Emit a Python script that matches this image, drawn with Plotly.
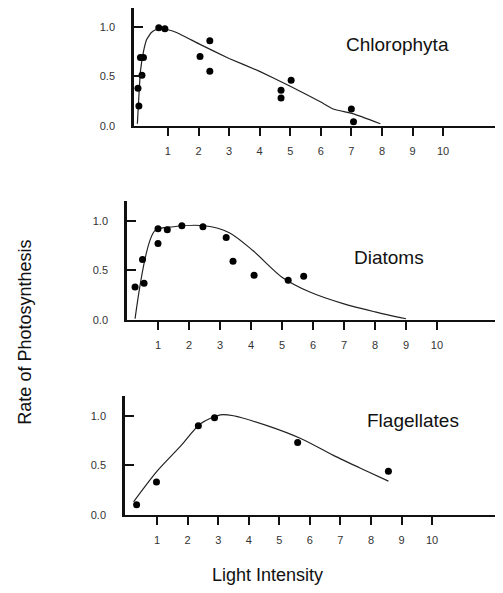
import plotly.graph_objects as go

# page body has an 8px default margin; size the figure to fill the rest
OFF = 8
W, H = 503 - OFF, 593 - OFF

# ---------------- data ----------------
panel_names = ["Chlorophyta", "Diatoms", "Flagellates"]

chl_pts_x = [0.02, 0.05, 0.10, 0.20, 0.15, 0.70, 0.90, 2.05, 2.37, 2.37, 4.70, 4.70, 5.03, 7.00, 7.07]
chl_pts_y = [0.38, 0.20, 0.69, 0.69, 0.51, 0.99, 0.98, 0.70, 0.86, 0.55, 0.36, 0.28, 0.46, 0.17, 0.04]
chl_curve_x = [0.0, 0.05, 0.10, 0.20, 0.30, 0.45, 0.60, 0.80, 1.0, 1.3, 2.0, 3.0, 4.0, 5.0, 6.0, 6.4, 7.07, 7.95]
chl_curve_y = [0.02, 0.30, 0.55, 0.75, 0.87, 0.94, 0.97, 0.98, 0.97, 0.94, 0.83, 0.68, 0.55, 0.40, 0.24, 0.17, 0.12, 0.02]

dia_pts_x = [0.26, 0.50, 0.55, 1.00, 1.00, 1.30, 1.77, 2.45, 3.20, 3.42, 4.10, 5.20, 5.70]
dia_pts_y = [0.33, 0.61, 0.37, 0.92, 0.77, 0.91, 0.95, 0.94, 0.83, 0.59, 0.45, 0.40, 0.44]
dia_curve_x = [0.26, 0.90, 1.5, 2.5, 3.3, 4.06, 5.0, 5.9, 7.0, 8.0, 9.0]
dia_curve_y = [0.01, 0.90, 0.94, 0.95, 0.88, 0.70, 0.43, 0.28, 0.16, 0.08, 0.01]

fla_pts_x = [0.33, 0.98, 2.35, 2.88, 5.60, 8.57]
fla_pts_y = [0.10, 0.33, 0.90, 0.98, 0.73, 0.44]
fla_curve_x = [0.23, 1.0, 1.76, 2.42, 3.07, 3.5, 4.6, 5.7, 6.77, 7.87, 8.57]
fla_curve_y = [0.13, 0.44, 0.69, 0.92, 1.01, 1.00, 0.90, 0.77, 0.60, 0.44, 0.34]

x_tick_vals = [1, 2, 3, 4, 5, 6, 7, 8, 9, 10]
x_tick_text = ["1", "2", "3", "4", "5", "6", "7", "8", "9", "10"]
y_tick_vals = [0.0, 0.5, 1.0]
y_tick_text = ["0.0", "0.5", "1.0"]

y_title = "Rate of Photosynthesis"
x_title = "Light Intensity"

# ---------------- figure ----------------
FONT = "Liberation Sans, Arial, sans-serif"
INK = "#111111"


def fx(p):
    return min(1.0, max(0.0, (p - OFF) / W))


def fy(p):
    return min(1.0, max(0.0, 1 - (p - OFF) / H))


panels = [
    (chl_pts_x, chl_pts_y, chl_curve_x, chl_curve_y),
    (dia_pts_x, dia_pts_y, dia_curve_x, dia_curve_y),
    (fla_pts_x, fla_pts_y, fla_curve_x, fla_curve_y),
]
curve_smoothing = [0.3, 0.8, 0.8]

# page-pixel geometry of each panel
geom = [
    dict(left=134, xr=[-0.11, 11.96], bottom=127, top=8, yr=[0, 1.19]),
    dict(left=127, xr=[0.0, 12.13], bottom=323, top=203, yr=[0, 1.20]),
    dict(left=125, xr=[-0.05, 12.32], bottom=520, top=400, yr=[0, 1.20]),
]

fig = go.Figure()
layout = dict(
    width=W, height=H,
    margin=dict(l=0, r=0, t=0, b=0),
    paper_bgcolor="white", plot_bgcolor="white",
    showlegend=False,
    font=dict(family=FONT, color=INK),
)

for i, ((px, py, cx, cy), g, sm) in enumerate(zip(panels, geom, curve_smoothing)):
    n = "" if i == 0 else str(i + 1)
    fig.add_trace(go.Scatter(
        x=cx, y=cy, mode="lines", xaxis="x" + n, yaxis="y" + n,
        line=dict(color="#222222", width=1.2, shape="spline", smoothing=sm),
        cliponaxis=False, hoverinfo="skip"))
    fig.add_trace(go.Scatter(
        x=px, y=py, mode="markers", xaxis="x" + n, yaxis="y" + n,
        marker=dict(color="#000000", size=7), cliponaxis=False))
    layout["xaxis" + n] = dict(
        domain=[fx(g["left"]), 1.0], range=g["xr"], anchor="y" + n,
        showgrid=False, zeroline=False, showline=True, linecolor=INK, linewidth=2,
        ticks="outside", ticklen=8, tickwidth=2, tickcolor=INK,
        tickvals=x_tick_vals, ticktext=x_tick_text,
        tickfont=dict(family=FONT, size=11, color="#333333"),
        ticklabelstandoff=6,
    )
    layout["yaxis" + n] = dict(
        domain=[fy(g["bottom"]), fy(g["top"])], range=g["yr"], anchor="x" + n,
        showgrid=False, zeroline=False, showline=True, linecolor=INK, linewidth=2.5,
        ticks="inside", ticklen=9, tickwidth=2, tickcolor=INK,
        tickvals=y_tick_vals, ticktext=y_tick_text,
        tickfont=dict(family=FONT, size=11, color="#333333"),
        ticklabelstandoff=14,
    )

title_pos = [(397, 45), (389, 260), (413, 425)]
annotations = []
for name, (tx, ty) in zip(panel_names, title_pos):
    annotations.append(dict(
        text=name, x=fx(tx), y=fy(ty), xref="paper", yref="paper",
        showarrow=False, xanchor="center", yanchor="middle",
        font=dict(family=FONT, size=19, color=INK)))
annotations.append(dict(
    text=y_title, x=fx(25), y=fy(336), xref="paper", yref="paper",
    showarrow=False, textangle=-90, xanchor="center", yanchor="middle",
    font=dict(family=FONT, size=18, color=INK)))
annotations.append(dict(
    text=x_title, x=fx(267), y=fy(581), xref="paper", yref="paper",
    showarrow=False, xanchor="center", yanchor="middle",
    font=dict(family=FONT, size=18, color=INK)))
layout["annotations"] = annotations

fig.update_layout(**layout)
fig.write_html("out.html")
